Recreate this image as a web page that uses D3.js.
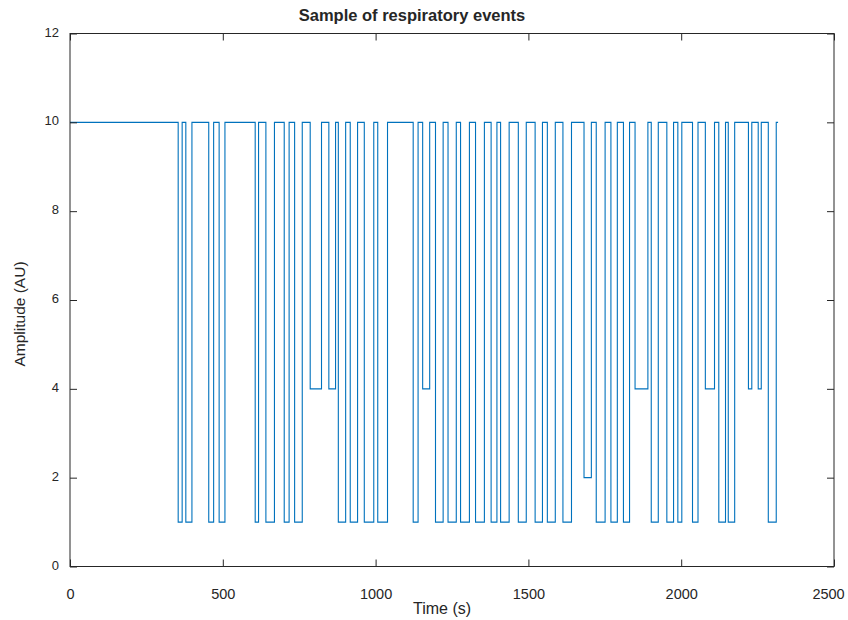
<!DOCTYPE html>
<html>
<head>
<meta charset="utf-8">
<script src="https://cdn.jsdelivr.net/npm/d3@7"></script>
<style>
  html, body { margin: 0; padding: 0; background: #fff; }
  svg { display: block; }
  text { font-family: "Liberation Sans", Arial, Helvetica, sans-serif; fill: #262626; }
</style>
</head>
<body>
<svg id="chart" width="848" height="620"></svg>
<script>
// ---- data ----
// times (s) at which the signal changes level, and the level that starts there
const changeTimes = [0, 354, 367, 379, 399, 454, 470, 488, 507, 606, 617, 641, 669, 701, 717, 735,
  760, 786, 823, 847, 869, 878, 902, 917, 941, 963, 994, 1007, 1039, 1123, 1139, 1154,
  1177, 1196, 1221, 1237, 1264, 1278, 1307, 1327, 1356, 1378, 1397, 1409, 1437, 1467, 1493, 1522, 1546,
  1562, 1588, 1613, 1641, 1682, 1706, 1722, 1751, 1770, 1791, 1811, 1831, 1849, 1891, 1902, 1925,
  1953, 1975, 1989, 2002, 2037, 2055, 2079, 2109, 2123, 2145, 2154, 2175, 2220, 2231, 2252, 2262, 2285, 2311, 2317];
const levels = [10, 1, 10, 1, 10, 1, 10, 1, 10, 1, 10, 1, 10, 1, 10, 1,
  10, 4, 10, 4, 10, 1, 10, 1, 10, 1, 10, 1, 10, 1, 10, 4,
  10, 1, 10, 1, 10, 1, 10, 1, 10, 1, 10, 1, 10, 1, 10, 1, 10,
  1, 10, 1, 10, 2, 10, 1, 10, 1, 10, 1, 10, 4, 10, 1, 10,
  1, 10, 1, 10, 1, 10, 4, 10, 1, 10, 1, 10, 4, 10, 4, 10, 1, 10, 10];
const xTicks = [0, 500, 1000, 1500, 2000, 2500];
const yTicks = [0, 2, 4, 6, 8, 10, 12];
const titleText = "Sample of respiratory events";
const xLabel = "Time (s)";
const yLabel = "Amplitude (AU)";

// ---- layout ----
const svg = d3.select("#chart");
const L = 70, R = 834, T = 33.5, B = 566.5;
const x = d3.scaleLinear().domain([0, 2500]).range([L, R]);
const y = d3.scaleLinear().domain([0, 12]).range([B, T]);
const axisColor = "#262626";
const tickLen = 7;

const pts = changeTimes.map((t, i) => [t, levels[i]]);

// signal
svg.append("path")
  .datum(pts)
  .attr("fill", "none")
  .attr("stroke", "#0072BD")
  .attr("stroke-width", 1.1)
  .attr("d", d3.line().x(d => x(d[0])).y(d => y(d[1])).curve(d3.curveStepAfter));

// axes (inward ticks, MATLAB style box)
const gx = svg.append("g").attr("transform", `translate(0,${B})`)
  .call(d3.axisBottom(x).tickValues(xTicks).tickSize(0).tickPadding(0).tickFormat(d3.format("d")));
gx.select(".domain").remove();
gx.selectAll(".tick text").attr("y", 22).attr("font-size", 14.5).attr("fill", axisColor)
  .attr("font-family", "Liberation Sans, Arial, sans-serif");
gx.selectAll(".tick text").filter(d => d === 2500).attr("dx", -6);
gx.selectAll(".tick").append("line").attr("y1", 0).attr("y2", -tickLen).attr("stroke", axisColor);

const gxt = svg.append("g").attr("transform", `translate(0,${T})`)
  .call(d3.axisTop(x).tickValues(xTicks).tickSize(0).tickFormat(""));
gxt.select(".domain").remove();
gxt.selectAll(".tick").append("line").attr("y1", 0).attr("y2", tickLen).attr("stroke", axisColor);

const gy = svg.append("g").attr("transform", `translate(${L},0)`)
  .call(d3.axisLeft(y).tickValues(yTicks).tickSize(0).tickPadding(0).tickFormat(d3.format("d")));
gy.select(".domain").remove();
gy.selectAll(".tick text").attr("x", -11).attr("dy", "0.2em").attr("font-size", 13).attr("fill", axisColor)
  .attr("font-family", "Liberation Sans, Arial, sans-serif");
gy.selectAll(".tick").append("line").attr("x1", 0).attr("x2", tickLen).attr("stroke", axisColor);

const gyr = svg.append("g").attr("transform", `translate(${R},0)`)
  .call(d3.axisRight(y).tickValues(yTicks).tickSize(0).tickFormat(""));
gyr.select(".domain").remove();
gyr.selectAll(".tick").append("line").attr("x1", 0).attr("x2", -tickLen).attr("stroke", axisColor);

// box
svg.append("rect").attr("x", L).attr("y", T).attr("width", R - L).attr("height", B - T)
  .attr("fill", "none").attr("stroke", axisColor).attr("stroke-width", 1);

// labels
svg.append("text").attr("x", 412).attr("y", 21).attr("text-anchor", "middle")
  .attr("font-size", 16.5).attr("font-weight", "bold").attr("fill", "#000").text(titleText);
svg.append("text").attr("x", 442).attr("y", 614).attr("text-anchor", "middle")
  .attr("font-size", 16).text(xLabel);
svg.append("text").attr("transform", `translate(25,314) rotate(-90)`).attr("text-anchor", "middle")
  .attr("font-size", 15.5).text(yLabel);
</script>
</body>
</html>
